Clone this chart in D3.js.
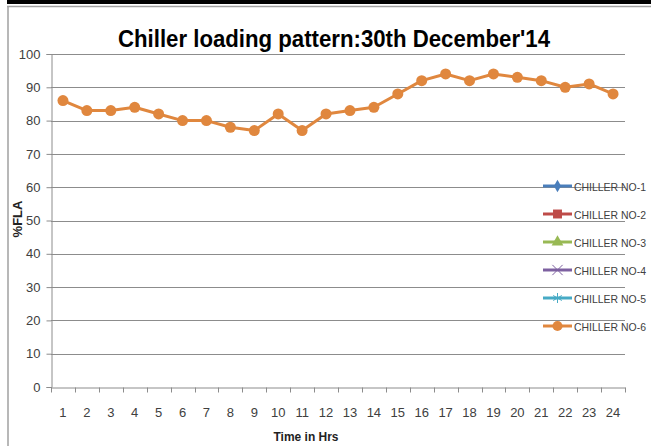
<!DOCTYPE html>
<html lang="en">
  <head>
    <meta charset="UTF-8" />
    <title>Chiller loading pattern</title>
    <style>
      body {
        margin: 0;
        background: #fff;
      }
      text {
        font-family: "Liberation Sans Narrow", "Liberation Sans", sans-serif;
      }
    </style>
  </head>
  <body>
    <script src="https://d3js.org/d3.v7.min.js"></script>
    <script>

var hours = d3.range(1, 25).map(String);
var yTicks = [0, 10, 20, 30, 40, 50, 60, 70, 80, 90, 100];
// only chiller 6 has data on this day
var chiller6 = [86, 83, 83, 84, 82, 80, 80, 78, 77, 82, 77, 82, 83, 84, 88, 92, 94, 92, 94, 93, 92, 90, 91, 88];
var seriesNames = ["CHILLER NO-1", "CHILLER NO-2", "CHILLER NO-3", "CHILLER NO-4", "CHILLER NO-5", "CHILLER NO-6"];
var seriesColors = ["#4a7ebb", "#be4b48", "#98b954", "#7d60a0", "#46aac5", "#e0873e"];

var width = 651,
    height = 446;

var svg = d3.select("body").append("svg")
    .attr("width", width)
    .attr("height", height);

// frame bits
svg.append("rect").attr("x", 7).attr("y", 0).attr("width", 644).attr("height", 4).attr("fill", "#000");
svg.append("line").attr("x1", 7).attr("x2", 651).attr("y1", 6.5).attr("y2", 6.5).attr("stroke", "#a0a0a0").attr("stroke-width", 1.5);
svg.append("line").attr("x1", 8).attr("x2", 8).attr("y1", 6).attr("y2", 446).attr("stroke", "#a0a0a0").attr("stroke-width", 1.5);

var plotLeft = 51, plotRight = 625, plotTop = 54, plotBottom = 387;

var x = d3.scaleBand().domain(hours).range([plotLeft, plotRight]);
var y = d3.scaleLinear().domain([0, 100]).range([plotBottom, plotTop]);

// gridlines
svg.append("g").selectAll("line")
  .data(yTicks.filter(function(d){ return d > 0; }))
  .enter().append("line")
  .attr("x1", plotLeft).attr("x2", plotRight)
  .attr("y1", function(d){ return Math.round(y(d)) + 0.5; })
  .attr("y2", function(d){ return Math.round(y(d)) + 0.5; })
  .attr("stroke", "#8c8c8c");

var yAxis = svg.append("g")
  .attr("transform", "translate(" + (plotLeft + 0.5) + ",0)")
  .call(d3.axisLeft(y).tickValues(yTicks).tickSize(5).tickPadding(6));

var xAxis = svg.append("g")
  .attr("transform", "translate(0," + (plotBottom + 0.5) + ")")
  .call(d3.axisBottom(x).tickSize(0).tickPadding(20));

// band boundary ticks for category axis
xAxis.selectAll(".bt")
  .data(d3.range(25))
  .enter().append("line")
  .attr("class", "bt")
  .attr("x1", function(i){ return Math.round(plotLeft + i * x.step()) + 0.5; })
  .attr("x2", function(i){ return Math.round(plotLeft + i * x.step()) + 0.5; })
  .attr("y1", 0).attr("y2", 5)
  .attr("stroke", "#8c8c8c");

svg.selectAll(".domain").attr("stroke", "#8c8c8c");
yAxis.selectAll(".tick line").attr("stroke", "#8c8c8c");
svg.selectAll(".tick text")
  .attr("fill", "#404040")
  .style("font-family", "'Liberation Sans Narrow', 'Liberation Sans', sans-serif")
  .style("font-size", "13px");

// series line
var line = d3.line()
  .x(function(d, i){ return x(hours[i]) + x.bandwidth() / 2; })
  .y(function(d){ return y(d); });

svg.append("path")
  .datum(chiller6)
  .attr("d", line)
  .attr("fill", "none")
  .attr("stroke", seriesColors[5])
  .attr("stroke-width", 3)
  .attr("stroke-linejoin", "round");

svg.append("g").selectAll("circle")
  .data(chiller6)
  .enter().append("circle")
  .attr("cx", function(d, i){ return x(hours[i]) + x.bandwidth() / 2; })
  .attr("cy", function(d){ return y(d); })
  .attr("r", 5.5)
  .attr("fill", seriesColors[5]);

// title
svg.append("text")
  .attr("x", 334).attr("y", 47)
  .attr("text-anchor", "middle")
  .style("font-size", "24px")
  .style("font-weight", "bold")
  .attr("fill", "#000")
  .attr("textLength", 432)
  .attr("lengthAdjust", "spacingAndGlyphs")
  .text("Chiller loading pattern:30th December'14");

// axis titles
svg.append("text")
  .attr("transform", "translate(22,219) rotate(-90)")
  .attr("text-anchor", "middle")
  .style("font-size", "13px")
  .style("font-weight", "bold")
  .attr("fill", "#222")
  .text("%FLA");

svg.append("text")
  .attr("x", 306).attr("y", 441)
  .attr("text-anchor", "middle")
  .style("font-size", "13px")
  .style("font-weight", "bold")
  .attr("fill", "#222")
  .attr("textLength", 65)
  .attr("lengthAdjust", "spacingAndGlyphs")
  .text("Time in Hrs");

// legend
var legend = svg.append("g").selectAll("g")
  .data(seriesNames)
  .enter().append("g")
  .attr("transform", function(d, i){ return "translate(543," + (186 + i * 28) + ")"; });

legend.append("line")
  .attr("x1", 0).attr("x2", 29).attr("y1", 0).attr("y2", 0)
  .attr("stroke", function(d, i){ return seriesColors[i]; })
  .attr("stroke-width", 3);

var symbols = [d3.symbolDiamond, d3.symbolSquare, d3.symbolTriangle, d3.symbolX, d3.symbolAsterisk, d3.symbolCircle];
var symSizes = [45, 80, 60, 70, 70, 80];
legend.append("path")
  .attr("transform", "translate(14.5,0)")
  .attr("d", function(d, i){ return d3.symbol().type(symbols[i]).size(symSizes[i])(); })
  .attr("fill", function(d, i){ return (i === 3 || i === 4) ? "none" : seriesColors[i]; })
  .attr("stroke", function(d, i){ return (i === 3 || i === 4) ? seriesColors[i] : "none"; })
  .attr("stroke-width", 1);

legend.append("text")
  .attr("x", 31).attr("y", 4.5)
  .style("font-size", "11.5px")
  .attr("fill", "#404040")
  .attr("textLength", 72)
  .attr("lengthAdjust", "spacingAndGlyphs")
  .text(function(d){ return d; });

    </script>
  </body>
</html>
